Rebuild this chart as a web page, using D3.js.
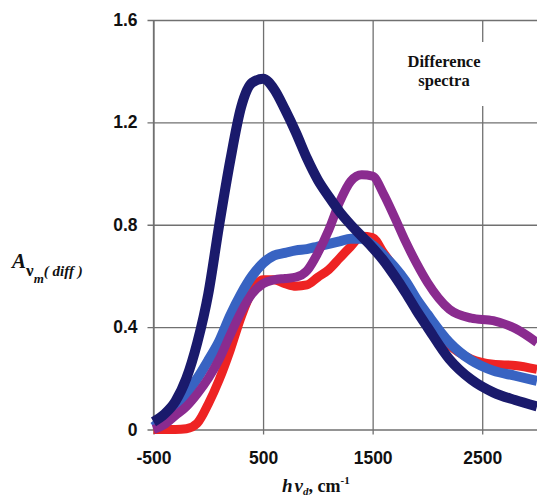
<!DOCTYPE html>
<html>
<head>
<meta charset="utf-8">
<script src="https://cdn.jsdelivr.net/npm/d3@7"></script>
<style>
  body { margin: 0; background: #fff; }
  svg { display: block; }
  .tick text { font-family: "Liberation Sans", Arial, sans-serif; font-weight: bold; font-size: 17.5px; fill: #111; }
  .serif { font-family: "Liberation Serif", "DejaVu Serif", "Times New Roman", serif; font-weight: bold; fill: #111; }
</style>
</head>
<body>
<svg></svg>
<script>
let width = 537;
let height = 502;

// wavenumber grid (cm-1) shared by all curves
let wavenumbers = [-500, -400, -300, -200, -100, 0, 100, 200, 300, 400, 500, 600, 700, 800, 900,
    1000, 1100, 1200, 1300, 1400, 1500, 1600, 1700, 1800, 1900, 2000, 2200, 2400, 2600, 2800, 3000];

// absorbance values
let redValues = [0, 0, 0, 0.003, 0.025, 0.10, 0.195, 0.31, 0.44, 0.54, 0.585, 0.585, 0.57, 0.56, 0.565,
    0.595, 0.625, 0.67, 0.715, 0.755, 0.75, 0.69, 0.63, 0.565, 0.50, 0.44, 0.33, 0.275, 0.255, 0.25, 0.235];
let blueValues = [0.01, 0.045, 0.09, 0.14, 0.20, 0.27, 0.345, 0.445, 0.53, 0.60, 0.65, 0.68, 0.69, 0.70, 0.705,
    0.715, 0.725, 0.735, 0.745, 0.745, 0.72, 0.68, 0.635, 0.58, 0.51, 0.45, 0.34, 0.27, 0.23, 0.21, 0.19];
let purpleValues = [0, 0.02, 0.055, 0.09, 0.14, 0.20, 0.275, 0.37, 0.46, 0.53, 0.57, 0.585, 0.59, 0.595, 0.62,
    0.69, 0.78, 0.89, 0.97, 0.995, 0.99, 0.92, 0.83, 0.735, 0.65, 0.575, 0.47, 0.435, 0.425, 0.395, 0.34];
let navyValues = [0.03, 0.06, 0.11, 0.20, 0.34, 0.53, 0.80, 1.05, 1.26, 1.355, 1.37, 1.33, 1.25, 1.16, 1.06,
    0.975, 0.91, 0.85, 0.80, 0.755, 0.71, 0.66, 0.60, 0.535, 0.465, 0.40, 0.275, 0.195, 0.145, 0.115, 0.09];

let xTicks = [-500, 500, 1500, 2500];
let yTicks = [0, 0.4, 0.8, 1.2, 1.6];

// drawn in this order, last on top
let series = [
    { name: 'red', color: '#ee2323', width: 9, values: redValues },
    { name: 'blue', color: '#3863c2', width: 10, values: blueValues },
    { name: 'purple', color: '#8a2b8f', width: 9, values: purpleValues },
    { name: 'navy', color: '#1a1a6c', width: 10, values: navyValues }
];

let svg = d3.select('svg')
    .attr('width', width)
    .attr('height', height);

let x = d3.scaleLinear().domain([-500, 3000]).range([153.5, 537]);
let y = d3.scaleLinear().domain([0, 1.6]).range([429.5, 20]);

let gridColor = '#707070';

// vertical grid + small ticks below the axis
let xAxis = svg.append('g')
    .attr('transform', `translate(0, ${y(0) + 5})`)
    .call(d3.axisBottom(x).tickValues(xTicks).tickSize(-(y(0) + 5 - y(1.6))).tickPadding(17).tickFormat(d => String(d)));
xAxis.select('.domain').remove();
xAxis.selectAll('line').attr('stroke', gridColor).attr('stroke-width', 1.3);

// horizontal grid + small ticks left of the axis
let yAxis = svg.append('g')
    .attr('transform', `translate(${x(-500) - 6}, 0)`)
    .call(d3.axisLeft(y).tickValues(yTicks).tickSize(-(width - x(-500) + 6)).tickPadding(10)
        .tickFormat(d => d === 0 ? '0' : d.toFixed(1)));
yAxis.select('.domain').remove();
yAxis.selectAll('line').attr('stroke', gridColor).attr('stroke-width', 1.3);

// left border
svg.append('line')
    .attr('x1', x(-500)).attr('x2', x(-500))
    .attr('y1', y(1.6)).attr('y2', y(0))
    .attr('stroke', gridColor).attr('stroke-width', 1.3);

// white box behind the note
svg.append('rect')
    .attr('x', 398).attr('y', 42)
    .attr('width', 94).attr('height', 64)
    .attr('fill', '#fff');

let note = svg.append('text')
    .classed('serif', true)
    .style('font-size', '16.5px')
    .attr('text-anchor', 'middle');
note.append('tspan').attr('x', 444).attr('y', 67).text('Difference');
note.append('tspan').attr('x', 444).attr('y', 86).text('spectra');

// curves
let line = d3.line()
    .x((d, i) => x(wavenumbers[i]))
    .y(d => y(d))
    .curve(d3.curveMonotoneX);

svg.selectAll('path.curve')
    .data(series)
    .enter()
    .append('path')
    .classed('curve', true)
    .attr('d', d => line(d.values))
    .attr('fill', 'none')
    .attr('stroke', d => d.color)
    .attr('stroke-width', d => d.width)
    .attr('stroke-linejoin', 'round');

// y axis title
let yTitle = svg.append('text')
    .classed('serif', true)
    .attr('x', 12).attr('y', 268)
    .style('font-style', 'italic');
yTitle.append('tspan').style('font-size', '21px').text('A');
yTitle.append('tspan').style('font-size', '17px').style('font-style', 'normal').attr('dy', 8).text('ν');
yTitle.append('tspan').style('font-size', '13px').attr('dy', 7).text('m');
yTitle.append('tspan').style('font-size', '15px').attr('dy', -7).text('( diff )');

// x axis title
let xTitle = svg.append('text')
    .classed('serif', true)
    .attr('x', 282).attr('y', 492);
xTitle.append('tspan').style('font-size', '19px').style('font-style', 'italic').text('h');
xTitle.append('tspan').style('font-size', '19px').style('font-style', 'italic').attr('dx', 2).text('ν');
xTitle.append('tspan').style('font-size', '11px').style('font-style', 'italic').attr('dy', 3).text('d');
xTitle.append('tspan').style('font-size', '18px').attr('dy', -3).text(', cm');
xTitle.append('tspan').style('font-size', '11px').attr('dy', -8).text('-1');
</script>
</body>
</html>
